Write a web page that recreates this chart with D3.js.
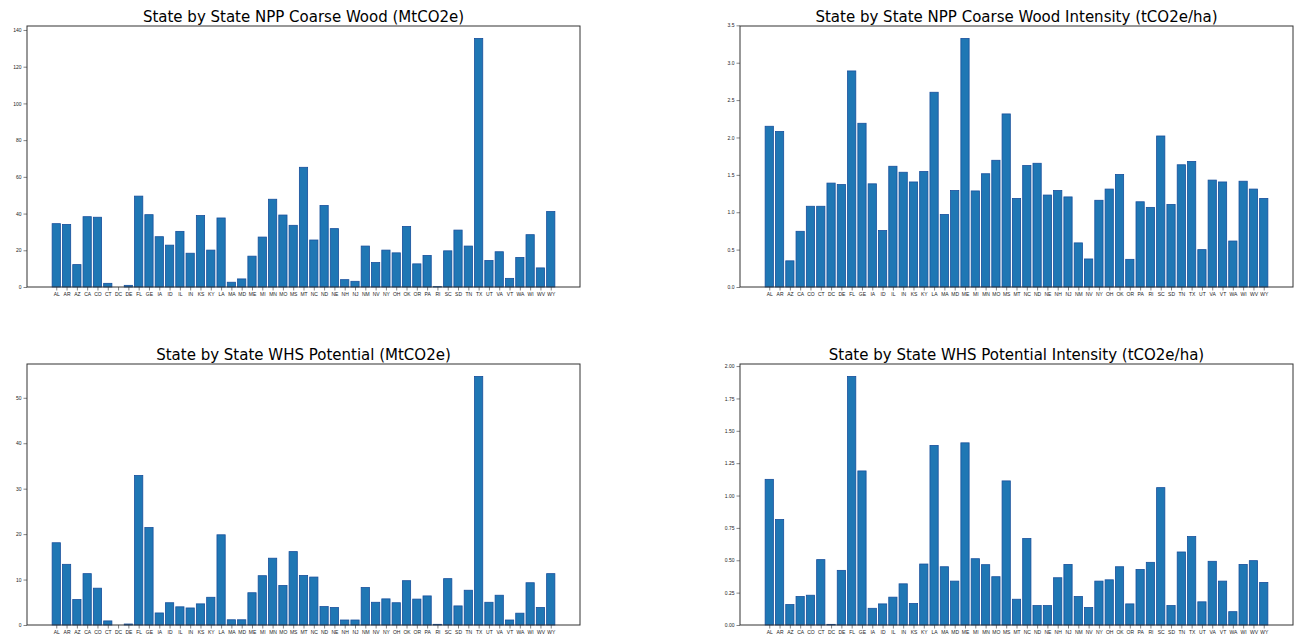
<!DOCTYPE html>
<html>
<head>
<meta charset="utf-8">
<script src="https://cdn.jsdelivr.net/npm/d3@7"></script>
<style>
  body { margin: 0; background: #fff; }
  svg { display: block; font-family: "DejaVu Sans", sans-serif; }
</style>
</head>
<body>
<svg id="chart" width="1294" height="636"></svg>
<script>
// state codes as they appear on the x axis
var states = ["AL","AR","AZ","CA","CO","CT","DC","DE","FL","GE","IA","ID","IL","IN","KS","KY","LA","MA","MD","ME",
  "MI","MN","MO","MS","MT","NC","ND","NE","NH","NJ","NM","NV","NY","OH","OK","OR","PA","RI","SC","SD",
  "TN","TX","UT","VA","VT","WA","WI","WV","WY"];

// NPP coarse wood (MtCO2e)
var nppWood = [34.5,34.1,12.2,38.3,38.0,2.0,0.0,0.9,49.5,39.4,27.4,22.8,30.3,18.4,38.9,20.1,37.6,2.6,4.4,16.8,
  27.2,47.8,39.2,33.6,65.2,25.6,44.4,31.8,4.0,3.1,22.3,13.3,20.1,18.6,33.0,12.6,17.2,0.2,19.7,31.0,
  22.3,135.4,14.4,19.2,4.7,16.1,28.5,10.4,41.1];

// NPP coarse wood intensity (tCO2e/ha)
var nppIntensity = [2.15,2.08,0.35,0.745,1.08,1.08,1.39,1.37,2.89,2.19,1.38,0.755,1.615,1.535,1.405,1.545,2.605,0.97,1.29,3.325,
  1.285,1.515,1.695,2.315,1.185,1.625,1.655,1.23,1.29,1.205,0.59,0.375,1.16,1.31,1.505,0.37,1.14,1.065,2.02,1.105,
  1.635,1.68,0.50,1.43,1.405,0.615,1.415,1.31,1.185];

// WHS potential (MtCO2e)
var whsPotential = [18.1,13.35,5.6,11.3,8.1,0.9,0.0,0.22,32.9,21.45,2.65,4.9,4.0,3.75,4.65,6.1,19.85,1.15,1.15,7.1,
  10.85,14.7,8.7,16.15,10.9,10.55,4.05,3.85,1.1,1.1,8.25,5.0,5.75,4.9,9.75,5.7,6.4,0.15,10.2,4.2,
  7.65,54.7,5.0,6.55,1.1,2.6,9.3,3.85,11.3];

// WHS potential intensity (tCO2e/ha)
var whsIntensity = [1.125,0.815,0.158,0.22,0.23,0.505,0.005,0.422,1.92,1.19,0.129,0.163,0.215,0.318,0.166,0.471,1.387,0.45,0.339,1.407,
  0.512,0.466,0.373,1.113,0.199,0.668,0.15,0.15,0.365,0.468,0.22,0.135,0.339,0.349,0.45,0.163,0.429,0.484,1.061,0.15,
  0.564,0.683,0.179,0.492,0.339,0.103,0.468,0.497,0.329];

// y tick values for each panel
var ticksNppWood = [0,20,40,60,80,100,120,140];
var ticksNppIntensity = [0,0.5,1.0,1.5,2.0,2.5,3.0,3.5];
var ticksWhsPotential = [0,10,20,30,40,50];
var ticksWhsIntensity = [0,0.25,0.5,0.75,1.0,1.25,1.5,1.75,2.0];

var panels = [
  {title: "State by State NPP Coarse Wood (MtCO2e)", values: nppWood, ticks: ticksNppWood, fmt: d3.format("d"),
   left: 27, right: 580, top: 26, bottom: 287},
  {title: "State by State NPP Coarse Wood Intensity (tCO2e/ha)", values: nppIntensity, ticks: ticksNppIntensity, fmt: d3.format(".1f"),
   left: 740, right: 1293, top: 26, bottom: 287},
  {title: "State by State WHS Potential (MtCO2e)", values: whsPotential, ticks: ticksWhsPotential, fmt: d3.format("d"),
   left: 27, right: 580, top: 364, bottom: 625},
  {title: "State by State WHS Potential Intensity (tCO2e/ha)", values: whsIntensity, ticks: ticksWhsIntensity, fmt: d3.format(".2f"),
   left: 740, right: 1293, top: 364, bottom: 625}
];

var svg = d3.select("#chart");
var barWidth = 0.8;

panels.forEach(function (p) {
  var n = p.values.length;
  // matplotlib style 5% margins around the bars
  var lo = -barWidth / 2, hi = n - 1 + barWidth / 2, pad = (hi - lo) * 0.05;
  var x = d3.scaleLinear().domain([lo - pad, hi + pad]).range([p.left, p.right]);
  var y = d3.scaleLinear().domain([0, d3.max(p.values) * 1.05]).range([p.bottom, p.top]);

  var g = svg.append("g");

  // bars
  g.selectAll("rect")
    .data(p.values)
    .enter()
    .append("rect")
    .attr("x", (d, i) => x(i - barWidth / 2))
    .attr("width", (d, i) => x(i + barWidth / 2) - x(i - barWidth / 2))
    .attr("y", d => y(d))
    .attr("height", d => y(0) - y(d))
    .attr("fill", "#1f77b4")
    .attr("stroke", "#174f9c")
    .attr("stroke-width", 0.8);

  // y axis
  var yAxis = d3.axisLeft(y).tickValues(p.ticks).tickFormat(p.fmt).tickSize(3.5).tickPadding(2);
  var ya = g.append("g").attr("transform", "translate(" + p.left + ",0)").call(yAxis);
  ya.select(".domain").remove();
  ya.selectAll("text").attr("font-size", 5).attr("fill", "#222");
  ya.selectAll("line").attr("stroke", "#333").attr("stroke-width", 0.6);

  // x axis with state labels
  var xAxis = d3.axisBottom(x).tickValues(d3.range(n)).tickFormat(i => states[i]).tickSize(3.5).tickPadding(1.5);
  var xa = g.append("g").attr("transform", "translate(0," + p.bottom + ")").call(xAxis);
  xa.select(".domain").remove();
  xa.selectAll("text").attr("font-size", 5).attr("fill", "#222");
  xa.selectAll("line").attr("stroke", "#333").attr("stroke-width", 0.6);

  // frame
  g.append("rect")
    .attr("x", p.left).attr("y", p.top)
    .attr("width", p.right - p.left).attr("height", p.bottom - p.top)
    .attr("fill", "none").attr("stroke", "#333").attr("stroke-width", 1);

  // title
  g.append("text")
    .attr("x", (p.left + p.right) / 2).attr("y", p.top - 4.5)
    .attr("text-anchor", "middle")
    .attr("font-size", 15)
    .attr("fill", "#000")
    .text(p.title);
});
</script>
</body>
</html>
